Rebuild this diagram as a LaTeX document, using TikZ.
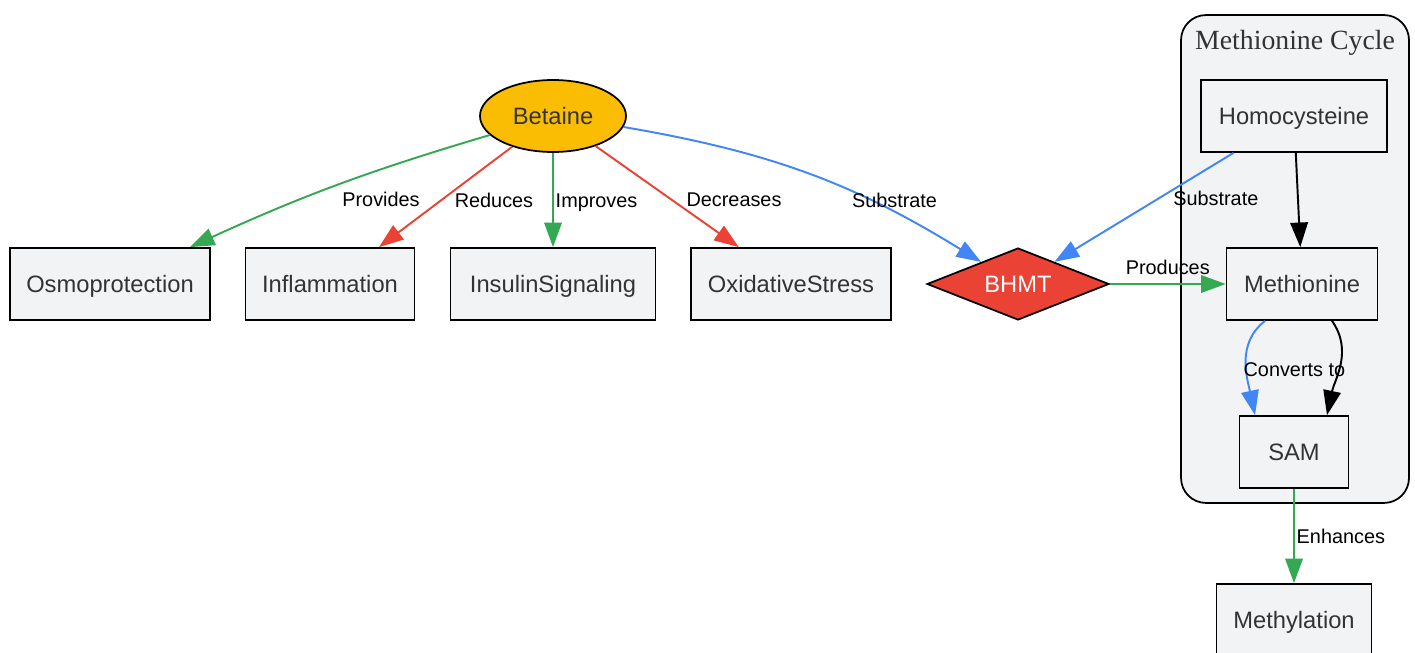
\documentclass[tikz,border=0pt]{standalone}
\usepackage{fontspec}
\setmainfont{Liberation Sans}
\newfontfamily\clusterfont{Liberation Serif}
\usetikzlibrary{shapes.geometric,arrows.meta}

\definecolor{gGreen}{HTML}{34A853}
\definecolor{gRed}{HTML}{EA4335}
\definecolor{gBlue}{HTML}{4285F4}
\definecolor{gYellow}{HTML}{FBBC04}
\definecolor{boxFill}{HTML}{F1F3F4}
\definecolor{boxText}{HTML}{333333}

\tikzset{
	box/.style={draw=black,line width=1pt,fill=boxFill,text=boxText,
		minimum height=1.44cm,inner sep=2pt,text height=1em,text depth=0pt,
		font=\fontsize{13.5}{16}\selectfont},
	elab/.style={font=\fontsize{11.3}{13}\selectfont,inner sep=1pt,anchor=west,text=black},
	link/.style={line width=1.1pt,-{Triangle[length=14pt,width=10pt]}},
}

\begin{document}
\begin{tikzpicture}[x=0.02cm,y=-0.02cm]
		\useasboundingbox (0,0) rectangle (1415,652);

		% Methionine cycle cluster
		\node[draw=black,line width=1pt,fill=boxFill,rounded corners=0.5cm,
			minimum width=4.56cm,minimum height=9.76cm] (cycle) at (1295,259) {};
		\node[text=boxText,font=\clusterfont\fontsize{15.8}{18}\selectfont] (cyclelabel) at (1295,43) {Methionine Cycle};

		% Betaine and its effects
		\node[ellipse,draw=black,line width=1pt,fill=gYellow,text=boxText,
			minimum width=2.92cm,minimum height=1.44cm,inner sep=0pt,
			text height=1em,text depth=0pt,
			font=\fontsize{13.5}{16}\selectfont] (betaine) at (553,116) {Betaine};
		\node[box,minimum width=4cm] (osmo) at (110,284) {Osmoprotection};
		\node[box,minimum width=3.38cm] (inflam) at (330,284) {Inflammation};
		\node[box,minimum width=4.1cm] (insulin) at (553,284) {InsulinSignaling};
		\node[box,minimum width=4cm] (oxid) at (791,284) {OxidativeStress};

		% Enzyme
		\node[diamond,draw=black,line width=1pt,fill=gRed,text=white,aspect=2.5,
			minimum width=3.64cm,minimum height=1.44cm,inner sep=0pt,
			text height=1em,text depth=0pt,
			font=\fontsize{13.5}{16}\selectfont] (bhmt) at (1018,284) {BHMT};

		% Cycle members
		\node[box,minimum width=3.72cm] (homocys) at (1294,116) {Homocysteine};
		\node[box,minimum width=3.02cm] (methio) at (1302,284) {Methionine};
		\node[box,minimum width=2.18cm] (sam) at (1294,452) {SAM};
		\node[box,minimum width=3.1cm] (methyl) at (1294,620) {Methylation};

		% Edges from betaine
		\draw[link,gGreen] (betaine) to[bend right=4] node[elab,pos=0.55,xshift=9pt,yshift=-5.5pt] {Provides} (osmo);
		\draw[link,gRed] (betaine) -- node[elab,pos=0.53,xshift=6pt] {Reduces} (inflam);
		\draw[link,gGreen] (betaine) -- node[elab,pos=0.5,yshift=-1.5pt] {Improves} (insulin);
		\draw[link,gRed] (betaine) -- node[elab,pos=0.53,xshift=7pt] {Decreases} (oxid);
		\draw[link,gBlue] (betaine) to[bend left=11] node[elab,pos=0.62,yshift=-5.5pt] {Substrate} (bhmt);

		% Edges of the cycle
		\draw[link,gBlue] (homocys) -- node[elab,pos=0.42,xshift=7pt] {Substrate} (bhmt);
		\draw[link,black] (homocys) -- (methio);
		\draw[link,gGreen] (bhmt) -- node[elab,pos=0.5,anchor=south,yshift=4pt] {Produces} (methio);
		\draw[link,gBlue] ([xshift=-0.74cm]methio.south) to[out=218,in=102]
			node[elab,pos=0.5,xshift=-3pt,yshift=-4pt] {Converts to} ([xshift=-0.78cm]sam.north);
		\draw[link,black] ([xshift=0.6cm]methio.south) to[out=-55,in=78] ([xshift=0.66cm]sam.north);
		\draw[link,gGreen] (sam) -- node[elab,pos=0.5] {Enhances} (methyl);
	\end{tikzpicture}
\end{document}
